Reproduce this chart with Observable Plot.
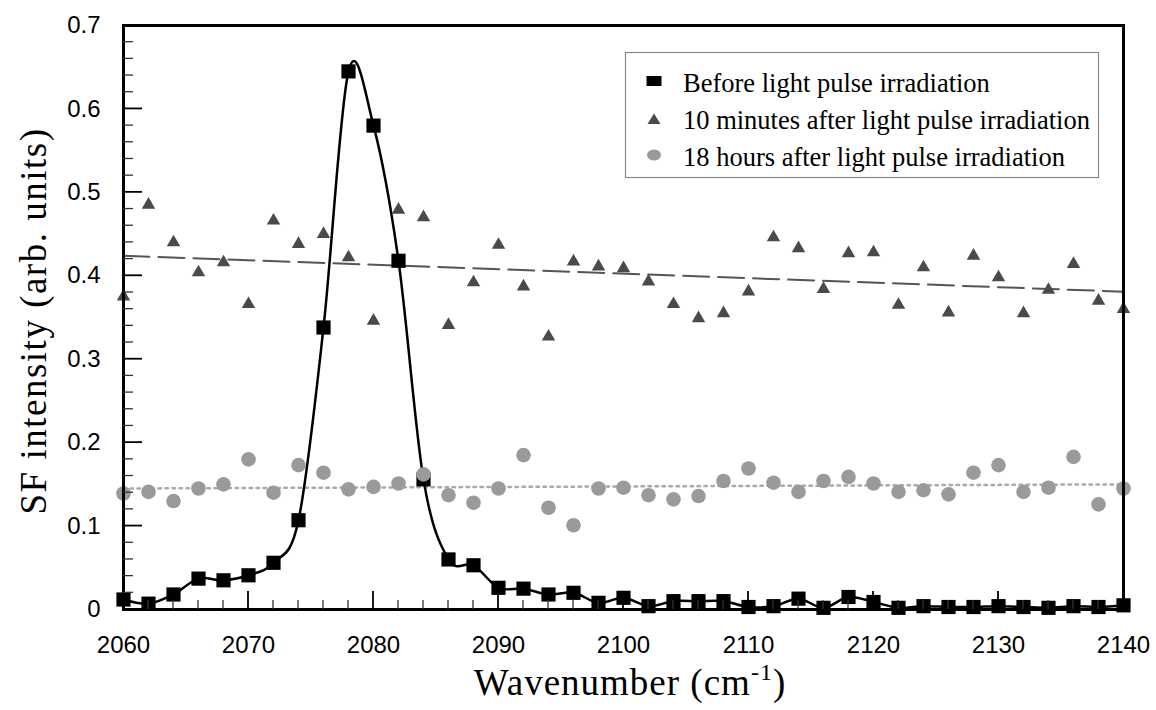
<!DOCTYPE html>
<html>
<head>
<meta charset="utf-8">
<script src="https://cdn.jsdelivr.net/npm/d3@7"></script>
<script src="https://cdn.jsdelivr.net/npm/@observablehq/plot@0.6"></script>
<style>
  body { margin: 0; background: #fff; }
  #chart { width: 1156px; height: 710px; }
</style>
</head>
<body>
<div id="chart"></div>
<script>
// ---- data ----
const wavenumber = [2060,2062,2064,2066,2068,2070,2072,2074,2076,2078,2080,2082,2084,2086,2088,2090,2092,2094,2096,2098,2100,
  2102,2104,2106,2108,2110,2112,2114,2116,2118,2120,2122,2124,2126,2128,2130,2132,2134,2136,2138,2140];
const before = [0.012,0.007,0.018,0.037,0.035,0.041,0.056,0.107,0.338,0.645,0.580,0.418,0.156,0.060,0.053,0.026,0.025,0.018,0.020,0.008,0.014,
  0.004,0.010,0.010,0.010,0.003,0.004,0.013,0.002,0.015,0.009,0.002,0.004,0.003,0.003,0.004,0.003,0.002,0.004,0.003,0.005];
const after10min = [0.375,0.485,0.440,0.404,0.416,0.366,0.466,0.438,0.450,0.422,0.346,0.479,0.470,0.341,0.392,0.437,0.387,0.327,0.417,0.411,0.409,
  0.393,0.366,0.349,0.355,0.381,0.446,0.433,0.384,0.427,0.428,0.365,0.410,0.356,0.424,0.398,0.355,0.383,0.414,0.370,0.360];
const after18h = [0.139,0.141,0.130,0.145,0.150,0.180,0.140,0.173,0.164,0.144,0.147,0.151,0.162,0.137,0.128,0.145,0.185,0.122,0.101,0.145,0.146,
  0.137,0.132,0.136,0.154,0.169,0.152,0.141,0.154,0.159,0.151,0.141,0.143,0.138,0.164,0.173,0.141,0.146,0.183,0.126,0.145];
// straight trend lines (end points)
const trendX = [2060, 2140];
const trend10min = [0.424, 0.381];
const trend18h = [0.145, 0.150];
// ticks and labels
const xMajorTicks = [2060,2070,2080,2090,2100,2110,2120,2130,2140];
const xMinorTicks = [2062,2064,2066,2068,2072,2074,2076,2078,2082,2084,2086,2088,2092,2094,2096,2098,2102,2104,2106,2108,
  2112,2114,2116,2118,2122,2124,2126,2128,2132,2134,2136,2138];
const yMajorTicks = [0,0.1,0.2,0.3,0.4,0.5,0.6,0.7];
const yMinorTicks = [0.02,0.04,0.06,0.08,0.12,0.14,0.16,0.18,0.22,0.24,0.26,0.28,0.32,0.34,0.36,0.38,
  0.42,0.44,0.46,0.48,0.52,0.54,0.56,0.58,0.62,0.64,0.66,0.68];
const seriesNames = ["Before light pulse irradiation", "10 minutes after light pulse irradiation", "18 hours after light pulse irradiation"];
const xTitle = ["Wavenumber (cm", "-1", ")"];
const yTitle = "SF intensity (arb. units)";

// ---- tables ----
const rows = wavenumber.map((w, i) => ({w, before: before[i], m10: after10min[i], h18: after18h[i]}));
const trendRows = trendX.map((w, i) => ({w, m10: trend10min[i], h18: trend18h[i]}));

const W = 1156, H = 710, ML = 123, MR = 33, MT = 25, MB = 101;
const tickFont = '"Liberation Sans", Arial, sans-serif';
const serif = '"Liberation Serif", "Times New Roman", serif';

const plot = Plot.plot({
  width: W,
  height: H,
  marginLeft: ML,
  marginRight: MR,
  marginTop: MT,
  marginBottom: MB,
  style: {fontFamily: tickFont, fontSize: "24px", color: "#000", background: "#fff"},
  x: {domain: [2060, 2140]},
  y: {domain: [0, 0.7]},
  marks: [
    Plot.line(trendRows, {x: "w", y: "m10", stroke: "#555", strokeWidth: 2, strokeDasharray: "26,9"}),
    Plot.line(trendRows, {x: "w", y: "h18", stroke: "#aaa", strokeWidth: 2.5, strokeDasharray: "2.5,4.5"}),
    Plot.line(rows, {x: "w", y: "before", stroke: "#000", strokeWidth: 2.5, curve: "cardinal"}),
    Plot.dot(rows, {x: "w", y: "before", symbol: "square", r: 8, fill: "#000", stroke: "none"}),
    Plot.dot(rows, {x: "w", y: "m10", symbol: "triangle", r: 5, fill: "#4a4a4a", stroke: "none"}),
    Plot.dot(rows, {x: "w", y: "h18", symbol: "circle", r: 7.3, fill: "#9a9a9a", stroke: "none"}),
    Plot.frame({stroke: "#000", strokeWidth: 3}),
    // tick labels
    Plot.axisX(xMajorTicks, {tickSize: 0, tickPadding: 26, tickFormat: d => String(d),
      fontFamily: tickFont, fontSize: 24, label: null}),
    Plot.axisY(yMajorTicks, {tickSize: 0, tickPadding: 23, tickFormat: d => String(+d.toFixed(1)),
      fontFamily: tickFont, fontSize: 24, label: null})
  ]
});
document.getElementById("chart").appendChild(plot);

const svg = d3.select(plot);
const sx = plot.scale("x"), sy = plot.scale("y");
const x0 = sx.apply(2060), y0 = sy.apply(0);

// inward ticks on the bottom and left edges, placed with Plot's own scales
const tg = svg.append("g");
function xTicks(vals, len, color, sw) {
  vals.forEach(v => {
    const px = sx.apply(v);
    tg.append("line").attr("x1", px).attr("x2", px).attr("y1", y0).attr("y2", y0 - len)
      .attr("stroke", color).attr("stroke-width", sw);
  });
}
function yTicks(vals, len, color, sw) {
  vals.forEach(v => {
    const py = sy.apply(v);
    tg.append("line").attr("x1", x0).attr("x2", x0 + len).attr("y1", py).attr("y2", py)
      .attr("stroke", color).attr("stroke-width", sw);
  });
}
xTicks(xMinorTicks, 9, "#333", 1.3);
xTicks(xMajorTicks, 18, "#000", 1.8);
yTicks(yMinorTicks, 10, "#333", 1.3);
yTicks(yMajorTicks, 19, "#000", 1.8);

// axis titles
const xt = svg.append("text")
  .attr("x", 630).attr("y", 695)
  .attr("text-anchor", "middle")
  .attr("font-family", serif).attr("font-size", 37).attr("letter-spacing", 1)
  .attr("fill", "#000");
xt.append("tspan").text(xTitle[0]);
xt.append("tspan").attr("font-size", 24).attr("dy", -15).text(xTitle[1]);
xt.append("tspan").attr("dy", 15).text(xTitle[2]);

svg.append("text")
  .attr("transform", "translate(46,321) rotate(-90)")
  .attr("text-anchor", "middle")
  .attr("font-family", serif).attr("font-size", 37).attr("letter-spacing", 1.5)
  .attr("fill", "#000")
  .text(yTitle);

// legend box
const lg = svg.append("g").attr("text-anchor", "start");
lg.append("rect").attr("x", 625.5).attr("y", 52.5).attr("width", 473).attr("height", 125)
  .attr("fill", "#fff").attr("stroke", "#888").attr("stroke-width", 1.2);
lg.append("rect").attr("x", 646.5).attr("y", 76).attr("width", 15).attr("height", 10).attr("fill", "#000");
lg.append("path").attr("d", "M654,113.5L660.5,124L647.5,124Z").attr("fill", "#4a4a4a");
lg.append("ellipse").attr("cx", 654).attr("cy", 155).attr("rx", 7).attr("ry", 5.5).attr("fill", "#9a9a9a");
const baselines = [92, 129, 166];
seriesNames.forEach((name, i) => {
  lg.append("text").attr("x", 683).attr("y", baselines[i])
    .attr("text-anchor", "start")
    .attr("font-family", serif).attr("font-size", 26.5).attr("fill", "#000")
    .text(name);
});
</script>
</body>
</html>
